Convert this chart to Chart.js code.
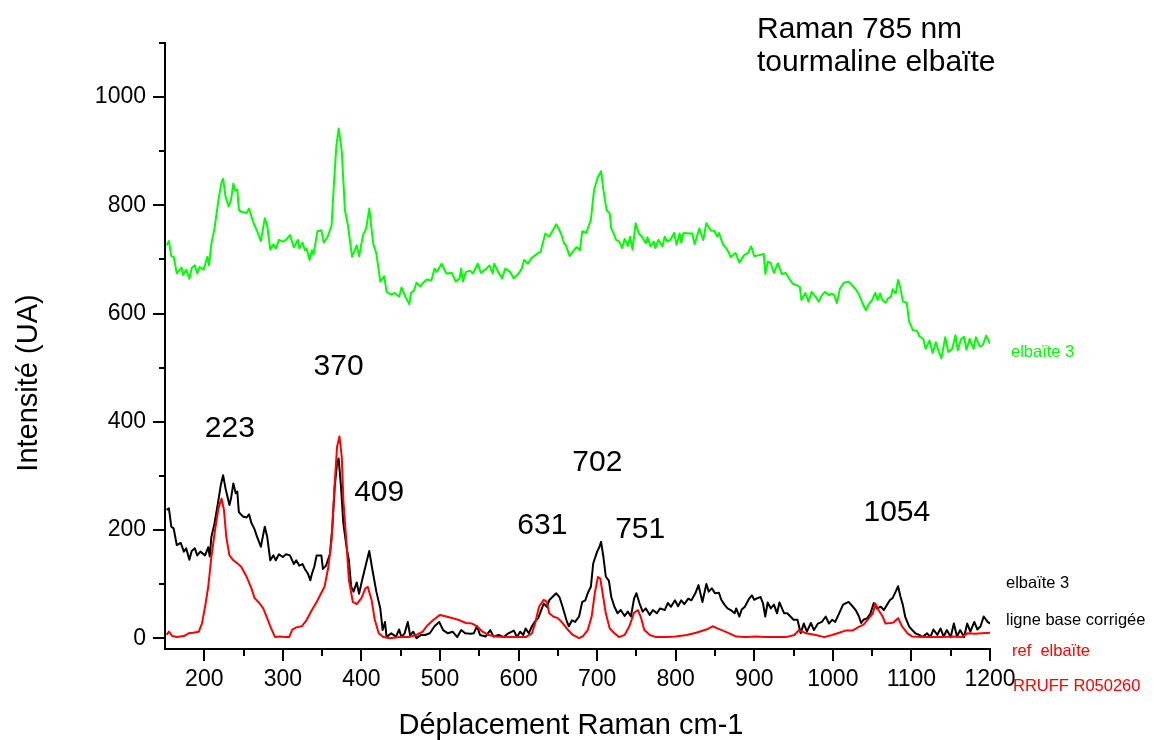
<!DOCTYPE html>
<html>
<head>
<meta charset="utf-8">
<script src="https://cdn.jsdelivr.net/npm/chart.js@4.4.1/dist/chart.umd.min.js"></script>
<style>
  html, body { margin: 0; padding: 0; background: #fff; }
</style>
</head>
<body>
<canvas id="raman" width="1154" height="740"></canvas>
<script>
"use strict";

// spectra: [shift cm-1, intensity]
var elbaite3Raw = [
  [152,726],[155,734],[158,706],[161,705],[165,674],[171,685],[173,671],[177,681],[181,664],[184,684],
  [188,689],[191,674],[194,686],[199,681],[204,705],[206,689],[209,729],[213,757],[218,810],[222,843],
  [224,849],[227,816],[231,798],[234,810],[237,840],[239,828],[242,829],[244,791],[247,788],[254,786],
  [257,794],[260,779],[263,766],[267,753],[272,734],[277,776],[280,763],[284,718],[288,728],[291,720],
  [295,736],[300,733],[304,736],[309,745],[314,722],[319,736],[321,720],[325,731],[328,717],[330,720],
  [334,699],[337,717],[339,709],[344,752],[349,754],[352,731],[357,742],[362,763],[365,840],[368,908],
  [371,942],[375,899],[379,791],[383,761],[388,705],[394,726],[397,706],[402,745],[406,757],[410,794],
  [415,729],[419,711],[424,659],[429,669],[432,640],[438,635],[442,638],[448,631],[451,648],[456,631],
  [461,617],[463,638],[467,643],[470,657],[475,650],[478,656],[483,663],[489,661],[493,683],[496,677],
  [502,692],[508,674],[515,675],[520,659],[525,665],[527,683],[529,659],[533,677],[538,679],[542,674],
  [548,692],[552,675],[559,683],[563,689],[567,674],[569,692],[574,677],[579,665],[583,683],[589,677],
  [594,665],[600,674],[604,683],[607,699],[612,692],[616,702],[624,711],[628,714],[634,748],[639,742],
  [648,765],[654,748],[658,729],[660,727],[665,706],[669,714],[674,723],[678,717],[681,752],[686,749],
  [692,773],[696,828],[701,853],[705,863],[708,828],[712,791],[716,785],[718,757],[721,748],[724,736],
  [728,733],[732,721],[735,738],[739,725],[742,742],[745,718],[749,767],[753,748],[757,742],[762,730],
  [764,741],[768,724],[772,733],[774,721],[778,736],[783,724],[786,742],[789,733],[793,736],[798,749],
  [801,727],[805,748],[807,731],[810,749],[817,748],[821,748],[824,728],[830,757],[835,736],[839,767],
  [845,753],[849,753],[853,742],[855,749],[860,728],[864,721],[867,714],[870,704],[876,712],[881,694],
  [887,708],[892,712],[896,724],[900,706],[906,708],[912,710],[914,673],[917,696],[921,693],[925,675],
  [930,693],[935,673],[940,675],[945,663],[949,655],[954,652],[958,649],[960,625],[965,638],[969,622],
  [973,640],[978,631],[982,622],[986,634],[990,640],[995,634],[998,637],[1002,634],[1005,619],[1009,646],
  [1014,657],[1020,659],[1025,651],[1029,645],[1033,636],[1038,618],[1042,606],[1046,618],[1050,625],[1054,638],
  [1057,625],[1060,637],[1063,625],[1067,620],[1070,628],[1074,631],[1076,645],[1080,637],[1083,662],[1086,647],
  [1089,622],[1094,620],[1097,585],[1102,569],[1107,568],[1110,558],[1115,553],[1118,535],[1123,550],[1127,527],
  [1131,547],[1136,525],[1138,517],[1143,556],[1147,529],[1152,535],[1156,560],[1159,532],[1163,552],[1167,557],
  [1170,533],[1174,553],[1179,535],[1182,556],[1187,539],[1191,542],[1195,559],[1200,544]
];

var elbaite3Corrected = [
  [152,237],[155,240],[158,206],[161,203],[165,172],[170,176],[174,160],[177,166],[181,145],[184,161],
  [188,166],[191,153],[195,160],[201,153],[205,168],[207,151],[209,187],[213,212],[218,255],[221,283],
  [224,301],[227,277],[232,246],[234,258],[237,286],[240,268],[242,271],[244,233],[249,225],[254,223],
  [257,229],[260,213],[264,201],[267,188],[272,169],[274,184],[277,206],[280,188],[284,144],[288,153],
  [291,144],[295,155],[300,150],[304,155],[309,153],[314,137],[317,144],[321,134],[325,137],[328,128],
  [332,119],[335,107],[337,119],[340,132],[343,153],[349,153],[351,128],[355,134],[360,156],[363,206],
  [366,280],[369,323],[371,332],[374,280],[377,212],[381,169],[384,144],[387,95],[390,86],[394,103],
  [397,82],[401,108],[405,132],[410,161],[414,126],[419,86],[424,55],[427,15],[430,30],[432,2],
  [438,9],[444,3],[448,16],[451,2],[455,9],[459,30],[462,5],[466,12],[470,0],[476,6],
  [481,6],[487,9],[493,22],[499,30],[504,15],[510,9],[516,12],[522,2],[527,15],[532,9],
  [539,8],[543,9],[547,22],[551,6],[558,3],[564,15],[568,3],[575,6],[581,2],[587,9],
  [594,14],[598,2],[602,12],[606,6],[609,18],[613,9],[617,22],[621,31],[625,37],[632,64],
  [636,58],[639,70],[643,76],[648,83],[652,76],[656,58],[661,33],[664,22],[668,33],[672,30],
  [677,40],[681,67],[685,70],[688,83],[692,95],[695,138],[700,160],[703,169],[705,178],[708,150],
  [711,114],[715,106],[718,76],[722,58],[726,46],[730,52],[735,41],[739,49],[743,40],[747,73],
  [750,83],[754,64],[758,49],[762,55],[767,43],[771,52],[776,46],[780,55],[786,52],[790,65],
  [794,58],[799,70],[803,59],[807,70],[811,63],[816,73],[820,70],[825,83],[829,98],[834,67],
  [839,100],[842,86],[846,92],[850,83],[855,84],[858,71],[862,62],[866,55],[870,52],[875,46],
  [877,55],[881,40],[884,53],[888,58],[893,72],[897,79],[900,71],[904,74],[908,76],[911,65],
  [914,40],[917,66],[921,55],[925,62],[929,46],[932,66],[938,46],[942,46],[946,40],[950,34],
  [955,34],[959,9],[963,27],[967,12],[972,28],[976,15],[981,27],[986,30],[991,40],[995,27],
  [999,34],[1003,30],[1008,46],[1013,62],[1020,67],[1025,59],[1029,52],[1033,41],[1036,28],[1039,34],
  [1044,37],[1048,46],[1052,65],[1056,55],[1061,58],[1065,52],[1069,62],[1073,71],[1076,74],[1080,86],
  [1083,96],[1086,77],[1089,62],[1092,40],[1097,22],[1101,15],[1105,9],[1110,6],[1114,2],[1120,9],
  [1124,2],[1128,16],[1133,6],[1137,18],[1141,3],[1145,15],[1150,2],[1154,27],[1158,3],[1162,15],
  [1167,2],[1171,27],[1175,12],[1180,30],[1184,16],[1188,22],[1192,40],[1197,30],[1200,27]
];

var rruffR050260 = [
  [152,6],[155,12],[159,4],[165,2],[174,4],[180,9],[186,10],[193,12],[197,27],[201,58],
  [205,95],[209,150],[214,203],[218,240],[222,258],[225,237],[228,187],[232,153],[237,144],[243,137],
  [247,132],[254,113],[260,92],[264,74],[270,65],[275,55],[280,37],[284,22],[290,2],[296,3],
  [303,2],[308,2],[312,16],[317,20],[324,22],[330,33],[337,52],[343,67],[349,84],[353,95],
  [358,132],[362,181],[366,286],[369,354],[372,373],[375,335],[377,255],[381,175],[384,108],[389,67],
  [394,63],[400,74],[405,92],[408,95],[413,70],[417,34],[422,9],[428,2],[436,0],[449,2],
  [460,2],[470,6],[478,12],[483,22],[491,33],[500,43],[508,40],[516,37],[525,33],[533,28],
  [541,27],[547,22],[554,12],[562,6],[571,3],[583,2],[596,2],[609,2],[617,9],[621,27],
  [626,58],[632,71],[636,67],[639,46],[644,40],[650,37],[656,28],[663,15],[669,6],[677,0],
  [682,4],[688,15],[693,40],[697,83],[701,113],[704,110],[707,83],[711,46],[716,18],[722,9],
  [728,2],[735,6],[741,22],[747,47],[752,52],[756,37],[760,15],[767,6],[775,2],[788,2],
  [800,3],[814,6],[826,10],[839,16],[847,22],[853,18],[860,14],[868,9],[877,3],[889,2],
  [902,3],[915,2],[927,2],[940,2],[951,6],[957,15],[966,9],[978,6],[989,2],[999,6],
  [1008,10],[1016,14],[1025,14],[1033,21],[1039,25],[1046,37],[1051,46],[1054,64],[1058,52],[1063,41],
  [1067,27],[1073,28],[1077,29],[1083,37],[1088,22],[1095,9],[1101,3],[1114,2],[1126,2],[1139,2],
  [1152,3],[1164,2],[1171,9],[1181,8],[1190,9],[1200,10]
];

var peakNames = ['223', '370', '409', '631', '702', '751', '1054'];

var FONT = "'Liberation Sans', Arial, sans-serif";

function toPoints(arr) {
  return arr.map(function (p) { return { x: p[0], y: p[1] }; });
}

// where the peak numbers sit, in chart units
var peakSpots = [[232.6, 387], [371, 502], [422.6, 268], [630.3, 208], [700.2, 324], [754.8, 200], [1081.4, 231]];

var decor = {
  id: 'decor',
  afterDraw: function (chart) {
    var c = chart.ctx;
    var xs = chart.scales.x, ys = chart.scales.y;
    var area = chart.chartArea;
    c.save();
    c.strokeStyle = '#000';
    c.lineWidth = 2;
    // tick marks, long on labelled values
    for (var v = 0; v <= 1100; v += 100) {
      var py = Math.round(ys.getPixelForValue(v));
      var len = v % 200 === 0 ? 12 : 6;
      c.beginPath(); c.moveTo(area.left - len, py); c.lineTo(area.left, py); c.stroke();
    }
    for (var w = 200; w <= 1200; w += 50) {
      var px = Math.round(xs.getPixelForValue(w));
      var l2 = w % 100 === 0 ? 12 : 7;
      c.beginPath(); c.moveTo(px, area.bottom); c.lineTo(px, area.bottom + l2); c.stroke();
    }

    c.fillStyle = '#000';
    c.textAlign = 'center';
    c.textBaseline = 'middle';
    c.font = '30px ' + FONT;
    peakNames.forEach(function (name, i) {
      c.fillText(name, xs.getPixelForValue(peakSpots[i][0]), ys.getPixelForValue(peakSpots[i][1]));
    });

    // axis titles
    c.font = '29px ' + FONT;
    c.textBaseline = 'alphabetic';
    c.fillText('Déplacement Raman cm-1', 571, 734);
    c.save();
    c.translate(37, 383);
    c.rotate(-Math.PI / 2);
    c.fillText('Intensité (UA)', 0, 0);
    c.restore();

    // heading
    c.textAlign = 'left';
    c.font = '30px ' + FONT;
    c.fillText('Raman 785 nm', 757, 38);
    c.fillText('tourmaline elbaïte', 757, 71);

    // series names on the right
    c.font = '16.5px ' + FONT;
    c.textBaseline = 'middle';
    c.fillStyle = '#00ff00';
    c.fillText('elbaïte 3', 1011, 352);
    c.fillStyle = '#000';
    c.fillText('elbaïte 3', 1006, 583);
    c.fillText('ligne base corrigée', 1006, 620);
    c.fillStyle = '#ff0000';
    c.fillText('ref  elbaïte', 1012, 651);
    c.fillText('RRUFF R050260', 1013, 686);
    c.restore();
  }
};

var chart = new Chart(document.getElementById('raman'), {
  type: 'line',
  data: {
    datasets: [{
      label: 'ref elbaïte RRUFF R050260',
      data: toPoints(rruffR050260),
      borderColor: '#ff0000',
      borderWidth: 2
    }, {
      label: 'elbaïte 3 ligne base corrigée',
      data: toPoints(elbaite3Corrected),
      borderColor: '#000000',
      borderWidth: 2
    }, {
      label: 'elbaïte 3',
      data: toPoints(elbaite3Raw),
      borderColor: '#00ff00',
      borderWidth: 2
    }]
  },
  options: {
    responsive: false,
    animation: false,
    devicePixelRatio: 1,
    elements: { point: { radius: 0 }, line: { tension: 0, borderJoinStyle: 'round' } },
    layout: { padding: { top: 43, right: 164, left: 0, bottom: 0 } },
    plugins: { legend: { display: false }, tooltip: { enabled: false } },
    scales: {
      x: {
        type: 'linear',
        min: 150,
        max: 1200,
        afterFit: function (s) { s.height = 91; },
        grid: { display: false, drawTicks: true, tickLength: 12 },
        border: { display: true, color: '#000', width: 2 },
        ticks: {
          stepSize: 50,
          autoSkip: false,
          maxRotation: 0,
          padding: 5,
          color: '#000',
          font: { family: FONT, size: 23 },
          callback: function (v) { return (v % 100 === 0 && v >= 200) ? String(v) : ''; }
        }
      },
      y: {
        min: -20,
        max: 1100,
        afterFit: function (s) { s.width = 165; },
        grid: { display: false, drawTicks: true, tickLength: 12 },
        border: { display: true, color: '#000', width: 2 },
        ticks: {
          stepSize: 100,
          includeBounds: false,
          autoSkip: false,
          padding: 7,
          color: '#000',
          font: { family: FONT, size: 23 },
          callback: function (v) { return (v % 200 === 0 && v >= 0) ? String(v) : ''; }
        }
      }
    }
  },
  plugins: [decor]
});
</script>
</body>
</html>
